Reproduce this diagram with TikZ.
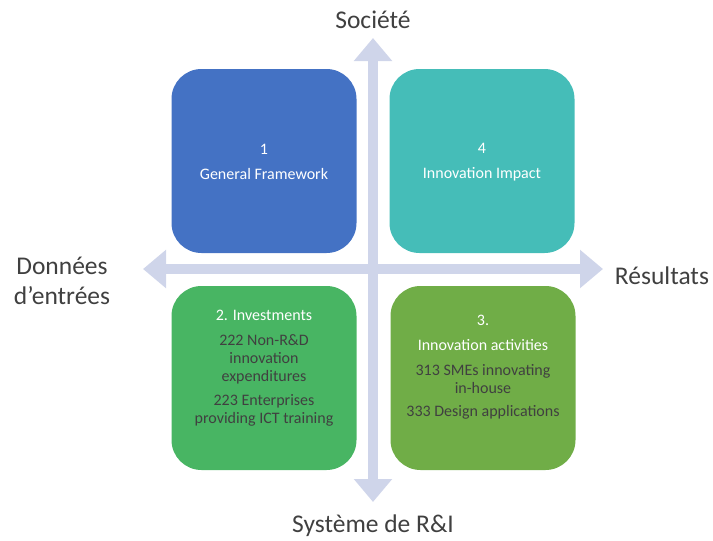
\documentclass[tikz,border=0pt]{standalone}
\usepackage{fontspec}
\setmainfont{Carlito}
\usetikzlibrary{arrows.meta}
\definecolor{axisblue}{HTML}{CFD5EA}
\definecolor{labelgray}{HTML}{404040}
\definecolor{frameblue}{HTML}{4472C4}
\definecolor{impactteal}{HTML}{45BDB8}
\definecolor{investgreen}{HTML}{48B563}
\definecolor{activgreen}{HTML}{70AD47}
\tikzset{
  quad/.style={rounded corners=30pt,minimum width=185pt,minimum height=184pt,inner sep=0pt},
  axis/.style={axisblue,line width=9.5pt,{Triangle[width=37pt,length=23pt]}-{Triangle[width=37pt,length=23pt]}},
  axislabel/.style={text=labelgray,align=center,font=\fontsize{25.5}{30}\selectfont},
  quadtext/.style={align=center,text=labelgray,font=\fontsize{16}{17.8}\selectfont},
}
\newcommand{\hd}[1]{\textcolor{white}{#1}}
\begin{document}
\begin{tikzpicture}[x=1pt,y=-1pt]
\useasboundingbox (0,0) rectangle (713,541);
% axes
\coordinate (top) at (373,38);
\coordinate (bottom) at (373,502);
\coordinate (left) at (143,269);
\coordinate (right) at (603,269);
\draw[axis] (bottom)--(top);
\draw[axis] (left)--(right);
\node[axislabel] (societe) at (373,20) {Société};
\node[axislabel] (systeme) at (373,526) {Système de R\&I};
\node[axislabel] (donnees) at (62,281) {Données\\d’entrées};
\node[axislabel] (resultats) at (662,276) {Résultats};
% quadrants
\node[quad,fill=frameblue] (framework) at (264,161) {};
\node[quad,fill=impactteal] (impact) at (482,161) {};
\node[quad,fill=investgreen] (invest) at (264,378) {};
\node[quad,fill=activgreen] (activ) at (483,378) {};
\node[quadtext] (frameworktext) at ([yshift=-1pt]framework.center) {\hd{1}\\[7pt]\hd{General Framework}};
\node[quadtext] (impacttext) at ([yshift=-1pt]impact.center) {\hd{4}\\[7pt]\hd{Innovation Impact}};
\node[quadtext,anchor=north] (investtext) at ([yshift=-21pt]invest.north)
  {\hd{2. Investments}\\[7pt]222 Non-R\&D\\innovation\\expenditures\\[7pt]223 Enterprises\\providing ICT training};
\node[quadtext,anchor=north] (activtext) at ([yshift=-26pt]activ.north)
  {\hd{3.}\\[7pt]\hd{Innovation activities}\\[7pt]313 SMEs innovating\\in-house\\[6pt]333 Design applications};
\end{tikzpicture}
\end{document}
